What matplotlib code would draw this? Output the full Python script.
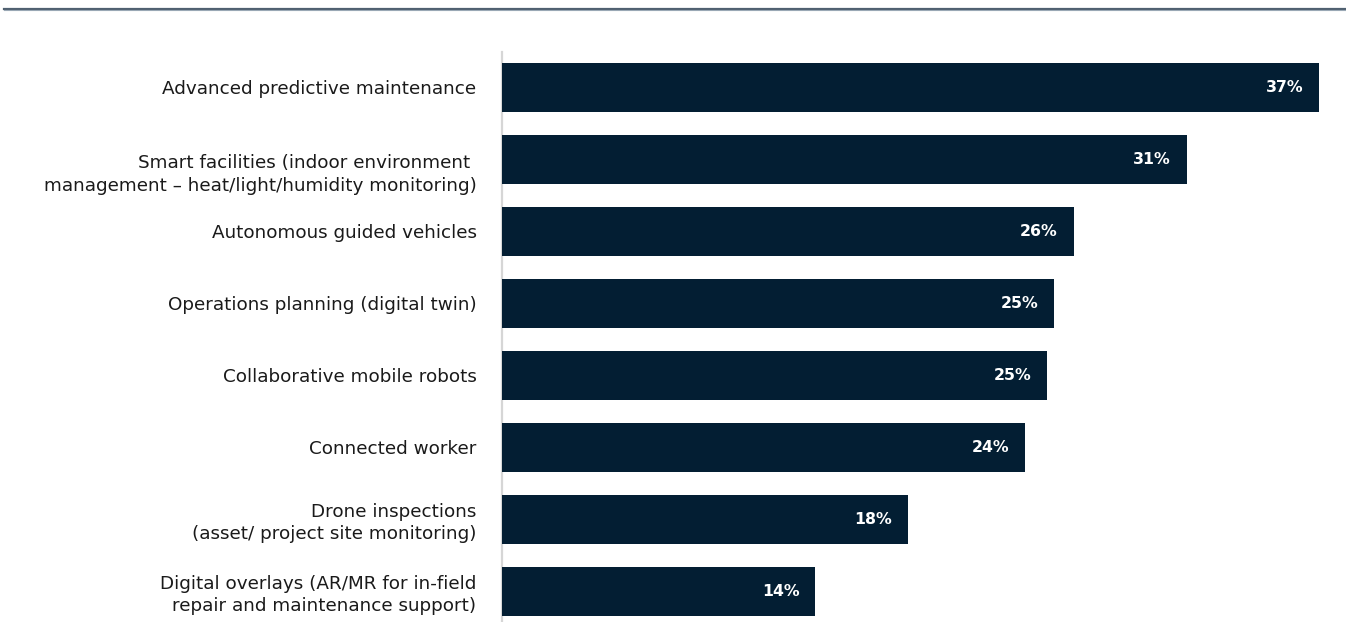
import matplotlib
matplotlib.use("Agg")
import matplotlib.pyplot as plt
from matplotlib.lines import Line2D

# Survey shares by use case (percent of respondents)
categories = [
    "Advanced predictive maintenance",
    "\nSmart facilities (indoor environment \nmanagement – heat/light/humidity monitoring)",
    "Autonomous guided vehicles",
    "Operations planning (digital twin)",
    "Collaborative mobile robots",
    "Connected worker",
    "Drone inspections\n(asset/ project site monitoring)",
    "Digital overlays (AR/MR for in-field\nrepair and maintenance support)",
]
values = [37.0, 31.0, 25.9, 25.0, 24.7, 23.7, 18.4, 14.2]

W, H = 1346, 622
DPI = 100
BAR_COLOR = "#031e33"
FONT = ["DejaVu Sans"]

fig = plt.figure(figsize=(W / DPI, H / DPI), dpi=DPI)
fig.patch.set_facecolor("white")

# axes placement in pixels
left_px, top_px, bottom_px = 501.5, 52, 622
px_per_unit = 22.1
xmax = 38.0
ax = fig.add_axes([left_px / W, 1 - bottom_px / H,
                   px_per_unit * xmax / W, (bottom_px - top_px) / H])

y = list(range(len(categories)))
ax.barh(y, values, height=0.68, color=BAR_COLOR, zorder=3)
ax.set_xlim(0, xmax)
ax.set_ylim(len(categories) - 1 + 0.43, -0.49)

for yi, v in zip(y, values):
    ax.annotate(f"{v:.0f}%", xy=(v, yi), xytext=(-16, 0),
                textcoords="offset pixels", ha="right", va="center",
                color="white", fontsize=11.3, fontweight="bold",
                family=FONT, zorder=4)

ax.set_yticks(y)
ax.set_yticklabels(categories, fontsize=13.2, color="#1a1a1a",
                   family=FONT, linespacing=1.3)
ax.tick_params(axis="y", length=0, pad=18)
ax.tick_params(axis="x", bottom=False, labelbottom=False)
for s in ("top", "right", "bottom"):
    ax.spines[s].set_visible(False)
ax.spines["left"].set_color("#d6d6d6")
ax.spines["left"].set_linewidth(1.6)

# rule across the top of the figure
fig.add_artist(Line2D([4 / W, 1], [1 - 8.5 / H] * 2, color="#4f6070",
                      linewidth=1.6, transform=fig.transFigure))
fig.add_artist(Line2D([4 / W, 1], [1 - 10 / H] * 2, color="#9aa8b5",
                      linewidth=0.8, transform=fig.transFigure))

fig.savefig("out.png", dpi=DPI, facecolor="white")
